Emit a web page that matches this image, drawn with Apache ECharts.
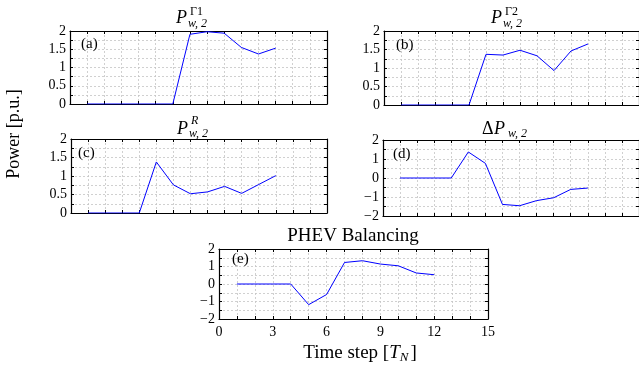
<!DOCTYPE html>
<html>
<head>
<meta charset="utf-8">
<script src="https://cdn.jsdelivr.net/npm/echarts@6/dist/echarts.min.js"></script>
<style>
  html, body { margin: 0; padding: 0; background: #fff; }
  #chart { width: 639px; height: 369px; }
</style>
</head>
<body>
<div id="chart"></div>
<script>
// time steps and the five panels
var steps = [1, 2, 3, 4, 5, 6, 7, 8, 9, 10, 11, 12];
var pGamma1 = [0, 0, 0, 0, 0, 0, 1.91, 1.98, 1.94, 1.55, 1.37, 1.53];
var pGamma2 = [0, 0, 0, 0, 0, 1.37, 1.35, 1.48, 1.33, 0.93, 1.46, 1.65];
var pR = [0, 0, 0, 0, 1.38, 0.76, 0.52, 0.57, 0.72, 0.53, 0.77, 1.01];
var deltaP = [0, 0, 0, 0, 1.37, 0.77, -1.39, -1.46, -1.19, -1.04, -0.6, -0.53];
var phev = [0, 0, 0, 0, -1.18, -0.6, 1.23, 1.33, 1.14, 1.04, 0.63, 0.53];

// tick labels
var powerTicks = ['0', '0.5', '1', '1.5', '2'];
var deltaTicks = ['\u22122', '\u22121', '0', '1', '2'];
var timeTicks = ['0', '3', '6', '9', '12', '15'];

var SERIF = '"Liberation Serif", "DejaVu Serif", serif';

var myChart = echarts.init(document.getElementById('chart'), null, { renderer: 'canvas' });

var grids = [
  { left: 70, top: 31, width: 257, height: 73 },
  { left: 384, top: 31, width: 257, height: 74 },
  { left: 71, top: 139, width: 256, height: 74 },
  { left: 383, top: 140, width: 257, height: 76 },
  { left: 219, top: 249, width: 269, height: 70 }
];

function powerLabel(v) {
  var k = Math.round(v * 2);
  if (Math.abs(v * 2 - k) > 1e-6) return '';
  return powerTicks[k] || '';
}
function deltaLabel(v) {
  var k = Math.round(v);
  if (Math.abs(v - k) > 1e-6) return '';
  return deltaTicks[k + 2] || '';
}
function timeLabel(v) {
  if (v % 3 !== 0) return '';
  return timeTicks[v / 3];
}

var gridLine = { show: true, lineStyle: { color: '#c4c4c4', type: [2, 2], width: 0.8 } };
var boxLine = { show: true, onZero: false, lineStyle: { color: '#000', width: 1.2 } };
var tick = { show: true, inside: true, length: 3, lineStyle: { color: '#000', width: 1 } };
var tickLabel = { color: '#000', fontFamily: SERIF, fontSize: 14 };

var xAxes = [], yAxes = [], series = [];
var panels = [
  { data: pGamma1, min: 0, max: 2, interval: 0.25, fmt: powerLabel },
  { data: pGamma2, min: 0, max: 2, interval: 0.25, fmt: powerLabel },
  { data: pR, min: 0, max: 2, interval: 0.25, fmt: powerLabel },
  { data: deltaP, min: -2, max: 2, interval: 0.5, fmt: deltaLabel },
  { data: phev, min: -2, max: 2, interval: 0.5, fmt: deltaLabel }
];

panels.forEach(function (p, i) {
  xAxes.push({
    gridIndex: i, type: 'value', min: 0, max: 15, interval: 1, position: 'bottom',
    axisLine: boxLine, axisTick: tick, splitLine: gridLine,
    axisLabel: Object.assign({ show: i === 4, margin: 6, formatter: timeLabel }, tickLabel)
  });
  xAxes.push({
    gridIndex: i, type: 'value', min: 0, max: 15, interval: 1, position: 'top',
    axisLine: boxLine, axisTick: tick, splitLine: { show: false }, axisLabel: { show: false }
  });
  yAxes.push({
    gridIndex: i, type: 'value', min: p.min, max: p.max, interval: p.interval, position: 'left',
    axisLine: boxLine, axisTick: tick, splitLine: gridLine,
    axisLabel: Object.assign({ margin: 4, formatter: p.fmt }, tickLabel)
  });
  yAxes.push({
    gridIndex: i, type: 'value', min: p.min, max: p.max, interval: p.interval, position: 'right',
    axisLine: boxLine, axisTick: tick, splitLine: { show: false }, axisLabel: { show: false }
  });
  series.push({
    type: 'line', xAxisIndex: i * 2, yAxisIndex: i * 2,
    data: steps.map(function (s, k) { return [s, p.data[k]]; }),
    showSymbol: false, symbol: 'none', z: 5,
    lineStyle: { color: '#0000ff', width: 1 }
  });
});

function fontOf(size, italic) {
  return (italic ? 'italic ' : '') + size + 'px ' + SERIF;
}
var measureCtx = document.createElement('canvas').getContext('2d');
function widthOf(s, size, italic) {
  measureCtx.font = fontOf(size, italic);
  return measureCtx.measureText(s).width;
}

function txt(s, x, y, size, italic, align) {
  return {
    type: 'text', x: x, y: y, z: 10,
    style: {
      text: s, fill: '#000', align: align || 'left', verticalAlign: 'middle',
      font: fontOf(size, italic)
    }
  };
}

// "Time step [T_N]" laid out piece by piece, centred under panel (e)
var xName = [
  { s: 'Time step [', size: 19, italic: false, dy: 0 },
  { s: 'T', size: 19, italic: true, dy: 0 },
  { s: 'N', size: 13, italic: true, dy: 5 },
  { s: ']', size: 19, italic: false, dy: 0 }
];
var xNameW = xName.reduce(function (a, p) { return a + widthOf(p.s, p.size, p.italic); }, 0) + 2;
var cx = 360 - xNameW / 2;
var xNameParts = xName.map(function (p, k) {
  var el = txt(p.s, cx, 353 + p.dy, p.size, p.italic);
  cx += widthOf(p.s, p.size, p.italic) + (k === 2 ? 2 : 0);
  return el;
});

var graphics = [
  // (a) P^{Γ1}_{w,2}
  txt('P', 176, 18, 18, true),
  txt('\u03931', 190, 12, 12, false),
  txt('w, 2', 188, 24, 12, true),
  // (b) P^{Γ2}_{w,2}
  txt('P', 491, 18, 18, true),
  txt('\u03932', 505, 12, 12, false),
  txt('w, 2', 503, 24, 12, true),
  // (c) P^R_{w,2}
  txt('P', 177, 129, 18, true),
  txt('R', 191, 121, 12, true),
  txt('w, 2', 189, 134, 12, true),
  // (d) ΔP_{w,2}
  txt('\u0394', 482, 129, 18, false),
  txt('P', 494, 129, 18, true),
  txt('w, 2', 508, 134, 12, true),
  // (e)
  txt('PHEV Balancing', 353, 236, 19, false, 'center'),
  // panel letters
  txt('(a)', 81, 44, 15, false),
  txt('(b)', 396, 45, 15, false),
  txt('(c)', 78, 153, 15, false),
  txt('(d)', 393, 154, 15, false),
  txt('(e)', 232, 259, 15, false)
];

var yName = txt('Power [p.u.]', 14, 134, 18, false, 'center');
yName.rotation = Math.PI / 2;
graphics.push(yName);
graphics = graphics.concat(xNameParts);

var option = {
  animation: false,
  backgroundColor: '#fff',
  grid: grids,
  xAxis: xAxes,
  yAxis: yAxes,
  series: series,
  graphic: graphics
};

myChart.setOption(option);
</script>
</body>
</html>
